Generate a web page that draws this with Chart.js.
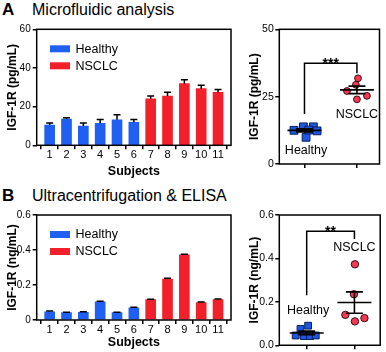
<!DOCTYPE html>
<html>
<head>
<meta charset="utf-8">
<script src="https://cdn.jsdelivr.net/npm/chart.js@4.4.1/dist/chart.umd.min.js"></script>
<style>
  body { margin: 0; width: 386px; height: 352px; overflow: hidden; background: #fff; position: relative;
         font-family: 'Liberation Sans', Arial, sans-serif; }
  canvas { position: absolute; }
  .ttl { position: absolute; font-size: 16px; line-height: 20px; color: #000; white-space: nowrap; }
  .ttl b { font-size: 17px; display: inline-block; width: 30px; }
</style>
</head>
<body>
<div class="ttl" style="left:2px;top:0px"><b>A</b>Microfluidic analysis</div>
<div class="ttl" style="left:2px;top:186px"><b>B</b>Ultracentrifugation &amp; ELISA</div>
<canvas id="barA" width="240" height="170" style="left:0;top:20px"></canvas>
<canvas id="barB" width="240" height="147" style="left:0;top:205px"></canvas>
<canvas id="dotA" width="142" height="165" style="left:244px;top:20px"></canvas>
<canvas id="dotB" width="142" height="147" style="left:244px;top:205px"></canvas>
<script>
// ---- data ----
const subjects = [1, 2, 3, 4, 5, 6, 7, 8, 9, 10, 11];
const healthySubjects = [1, 2, 3, 4, 5, 6];
const nsclcSubjects = [7, 8, 9, 10, 11];

const microHealthy = [10.5, 13.6, 10.0, 11.4, 13.2, 11.9];
const microHealthyErr = [1.0, 0.7, 1.5, 2.0, 2.6, 1.5];
const microNsclc = [24.1, 25.5, 31.9, 29.3, 27.4];
const microNsclcErr = [1.4, 1.9, 2.0, 1.7, 1.4];

const elisaHealthy = [0.047, 0.042, 0.044, 0.104, 0.042, 0.070];
const elisaHealthyErr = [0.004, 0.003, 0.003, 0.003, 0.003, 0.003];
const elisaNsclc = [0.116, 0.234, 0.372, 0.100, 0.117];
const elisaNsclcErr = [0.003, 0.004, 0.004, 0.003, 0.003];

// scatter panels (group 1 = Healthy, group 2 = NSCLC, x = jitter)
const microDotHealthyX = [0.80, 0.98, 1.03, 1.17, 1.24, 1.08];
const microDotHealthy = [12.5, 13.8, 9.9, 13.8, 12.3, 12.6];
const microDotNsclcX = [2.02, 1.98, 1.81, 2.00, 2.19];
const microDotNsclc = [31.8, 29.4, 27.1, 24.0, 25.3];

const elisaDotHealthyX = [1.03, 0.87, 0.77, 0.94, 1.07, 1.19];
const elisaDotHealthy = [0.090, 0.075, 0.045, 0.042, 0.042, 0.045];
const elisaDotNsclcX = [2.01, 1.99, 1.81, 2.01, 2.21];
const elisaDotNsclc = [0.373, 0.235, 0.140, 0.110, 0.125];

const BLUE = '#1f5ff2';
const RED = '#f2202a';
const FONT = "'Liberation Sans', Arial, sans-serif";

Chart.defaults.font.family = FONT;
Chart.defaults.color = '#000';

const pts = (xs, ys) => xs.map((x, i) => ({ x: x, y: ys[i] }));

// box around the plot area
const frame = {
  id: 'frame',
  afterDraw(chart) {
    const { ctx, chartArea: a } = chart;
    ctx.save();
    ctx.strokeStyle = '#000';
    ctx.lineWidth = 1.5;
    ctx.strokeRect(a.left, a.top, a.right - a.left, a.bottom - a.top);
    ctx.restore();
  }
};

// upward error bars on the bars
const errorBars = {
  id: 'errorBars',
  afterDatasetsDraw(chart, args, opts) {
    const { ctx } = chart;
    const y = chart.scales.y;
    ctx.save();
    ctx.strokeStyle = '#000';
    ctx.lineWidth = 1.5;
    chart.data.datasets.forEach((ds, di) => {
      chart.getDatasetMeta(di).data.forEach((bar, i) => {
        const top = y.getPixelForValue(ds.data[i].y + ds.errors[i]);
        ctx.beginPath();
        ctx.moveTo(bar.x, bar.y);
        ctx.lineTo(bar.x, top);
        ctx.moveTo(bar.x - opts.cap, top);
        ctx.lineTo(bar.x + opts.cap, top);
        ctx.stroke();
      });
    });
    ctx.restore();
  }
};

// legend drawn inside the plot area
const boxLegend = {
  id: 'boxLegend',
  afterDraw(chart, args, opts) {
    const { ctx, chartArea: a } = chart;
    ctx.save();
    ctx.font = '12.5px ' + FONT;
    ctx.textBaseline = 'middle';
    chart.data.datasets.forEach((ds, i) => {
      const cy = a.top + opts.top + i * opts.gap;
      ctx.fillStyle = ds.backgroundColor;
      ctx.fillRect(a.left + opts.left, cy - 3.5, 20, 7);
      ctx.fillStyle = '#000';
      ctx.fillText(ds.label, a.left + opts.left + 25.5, cy + 0.5);
    });
    ctx.restore();
  }
};

// mean +/- SEM, significance bracket and group labels
const meanSem = {
  id: 'meanSem',
  afterDatasetsDraw(chart, args, opts) {
    const { ctx, scales: { x, y } } = chart;
    ctx.save();
    ctx.strokeStyle = '#000';
    ctx.lineWidth = 1.6;
    chart.data.datasets.forEach((ds) => {
      const vals = ds.data.map(p => p.y);
      const n = vals.length;
      const m = vals.reduce((s, v) => s + v, 0) / n;
      const sd = Math.sqrt(vals.reduce((s, v) => s + (v - m) ** 2, 0) / (n - 1));
      const sem = sd / Math.sqrt(n);
      const cx = x.getPixelForValue(ds.group);
      const pm = y.getPixelForValue(m);
      const pt = y.getPixelForValue(m + sem);
      const pb = y.getPixelForValue(m - sem);
      ctx.beginPath();
      ctx.moveTo(cx - opts.mean, pm); ctx.lineTo(cx + opts.mean, pm);
      ctx.moveTo(cx, pt); ctx.lineTo(cx, pb);
      ctx.moveTo(cx - opts.cap, pt); ctx.lineTo(cx + opts.cap, pt);
      ctx.moveTo(cx - opts.cap, pb); ctx.lineTo(cx + opts.cap, pb);
      ctx.stroke();
    });

    const b = opts.bracket;
    const x1 = x.getPixelForValue(1), x2 = x.getPixelForValue(2);
    const yTop = y.getPixelForValue(b[1]);
    ctx.lineWidth = 1.5;
    ctx.beginPath();
    ctx.moveTo(x1, y.getPixelForValue(b[0]));
    ctx.lineTo(x1, yTop);
    ctx.lineTo(x2, yTop);
    ctx.lineTo(x2, y.getPixelForValue(b[2]));
    ctx.stroke();

    ctx.fillStyle = '#000';
    ctx.textAlign = 'center';
    ctx.textBaseline = 'alphabetic';
    ctx.font = 'bold 14px ' + FONT;
    ctx.fillText(opts.stars, (x1 + x2) / 2, yTop + 5);

    ctx.font = '12.5px ' + FONT;
    ctx.textBaseline = 'middle';
    opts.labels.forEach(l => {
      ctx.fillText(l.text, x.getPixelForValue(l.x), y.getPixelForValue(l.y));
    });
    ctx.restore();
  }
};

function axisCommon(fontSize) {
  return {
    grid: { display: true, drawOnChartArea: false, drawTicks: true, tickLength: 4, color: '#000', lineWidth: 1.5 },
    border: { display: false },
    ticks: { font: { size: fontSize, lineHeight: 1 }, color: '#000' }
  };
}

function barChart(id, hVals, hErr, nVals, nErr, yMax, yStep, yTitle, tickFmt, xHeight, xTitlePad, padTop) {
  const xAxis = axisCommon(11);
  const yAxis = axisCommon(10);
  return new Chart(document.getElementById(id), {
    type: 'bar',
    data: {
      datasets: [
        { label: 'Healthy', data: pts(healthySubjects, hVals), errors: hErr, backgroundColor: BLUE },
        { label: 'NSCLC', data: pts(nsclcSubjects, nVals), errors: nErr, backgroundColor: RED }
      ]
    },
    options: {
      responsive: false,
      animation: false,
      layout: { padding: { top: padTop, right: 9, left: 0, bottom: 0 } },
      datasets: { bar: { grouped: false, barThickness: 10 } },
      plugins: {
        legend: { display: false },
        tooltip: { enabled: false },
        errorBars: { cap: 3.5 },
        boxLegend: { left: 13.3, top: 19.5, gap: 17 }
      },
      scales: {
        x: Object.assign(xAxis, {
          type: 'linear', min: 0.23, max: 11.77, offset: false,
          afterBuildTicks: (s) => { s.ticks = subjects.map(v => ({ value: v })); },
          afterFit: (s) => { s.height = xHeight; },
          ticks: Object.assign(xAxis.ticks, { padding: 0 }),
          title: { display: true, text: 'Subjects', font: { size: 12.5, weight: 'bold' }, padding: { top: 0, bottom: xTitlePad } }
        }),
        y: Object.assign(yAxis, {
          min: 0, max: yMax,
          afterFit: (s) => { s.width = 36.7; },
          ticks: Object.assign(yAxis.ticks, { stepSize: yStep, padding: 2, callback: tickFmt }),
          title: { display: true, text: yTitle, font: { size: 12, weight: 'bold' }, padding: { top: 5, bottom: 0 } }
        })
      }
    },
    plugins: [frame, errorBars, boxLegend]
  });
}

function dotChart(id, hx, hy, nx, ny, xMin, xMax, yMax, yStep, yTitle, tickFmt, xHeight, padTop, padRight, sizes, bracket, stars, labels) {
  const xAxis = axisCommon(9);
  const yAxis = axisCommon(10.5);
  return new Chart(document.getElementById(id), {
    type: 'scatter',
    data: {
      datasets: [
        { label: 'Healthy', group: 1, data: pts(hx, hy), pointStyle: 'rect', pointRadius: sizes[0],
          backgroundColor: '#1d56e0', borderColor: '#0b1f5c', borderWidth: 1 },
        { label: 'NSCLC', group: 2, data: pts(nx, ny), pointStyle: 'circle', pointRadius: sizes[1],
          backgroundColor: '#f23a52', borderColor: '#3a0a10', borderWidth: 1 }
      ]
    },
    options: {
      responsive: false,
      animation: false,
      layout: { padding: { top: padTop, right: padRight, left: 0, bottom: 0 } },
      plugins: {
        legend: { display: false },
        tooltip: { enabled: false },
        meanSem: { mean: 17, cap: 8.5, bracket: bracket, stars: stars, labels: labels }
      },
      scales: {
        x: Object.assign(xAxis, {
          type: 'linear', min: xMin, max: xMax,
          afterBuildTicks: (s) => { s.ticks = [{ value: 1 }, { value: 2 }]; },
          afterFit: (s) => { s.height = xHeight; },
          ticks: Object.assign(xAxis.ticks, { callback: () => '' })
        }),
        y: Object.assign(yAxis, {
          min: 0, max: yMax,
          afterFit: (s) => { s.width = 35.3; },
          ticks: Object.assign(yAxis.ticks, { stepSize: yStep, padding: 1.5, callback: tickFmt }),
          title: { display: true, text: yTitle, font: { size: 12, weight: 'bold' }, padding: { top: 3.5, bottom: 0 } }
        })
      }
    },
    plugins: [meanSem, frame]
  });
}

barChart('barA', microHealthy, microHealthyErr, microNsclc, microNsclcErr,
  60, 20, 'IGF-1R (pg/mL)', v => v, 44.7, 11, 9.3);
barChart('barB', elisaHealthy, elisaHealthyErr, elisaNsclc, elisaNsclcErr,
  0.6, 0.2, 'IGF-1R (ng/mL)', v => (v === 0 ? '0' : v.toFixed(1)), 32, 1.5, 10);

dotChart('dotA', microDotHealthyX, microDotHealthy, microDotNsclcX, microDotNsclc,
  0.52, 2.43, 50, 25, 'IGF-1R (pg/mL)', v => v, 21, 9.3, 5, [5.5, 3.4],
  [18.6, 37.4, 33.7], '***',
  [{ text: 'Healthy', x: 1.03, y: 4.9 }, { text: 'NSCLC', x: 2.0, y: 18.2 }]);
dotChart('dotB', elisaDotHealthyX, elisaDotHealthy, elisaDotNsclcX, elisaDotNsclc,
  0.426, 2.54, 0.6, 0.2, 'IGF-1R (ng/mL)', v => v.toFixed(1), 4.3, 10, 1, [4.8, 3.7],
  [0.23, 0.525, 0.49], '**',
  [{ text: 'Healthy', x: 1.03, y: 0.16 }, { text: 'NSCLC', x: 2.0, y: 0.45 }]);
</script>
</body>
</html>
